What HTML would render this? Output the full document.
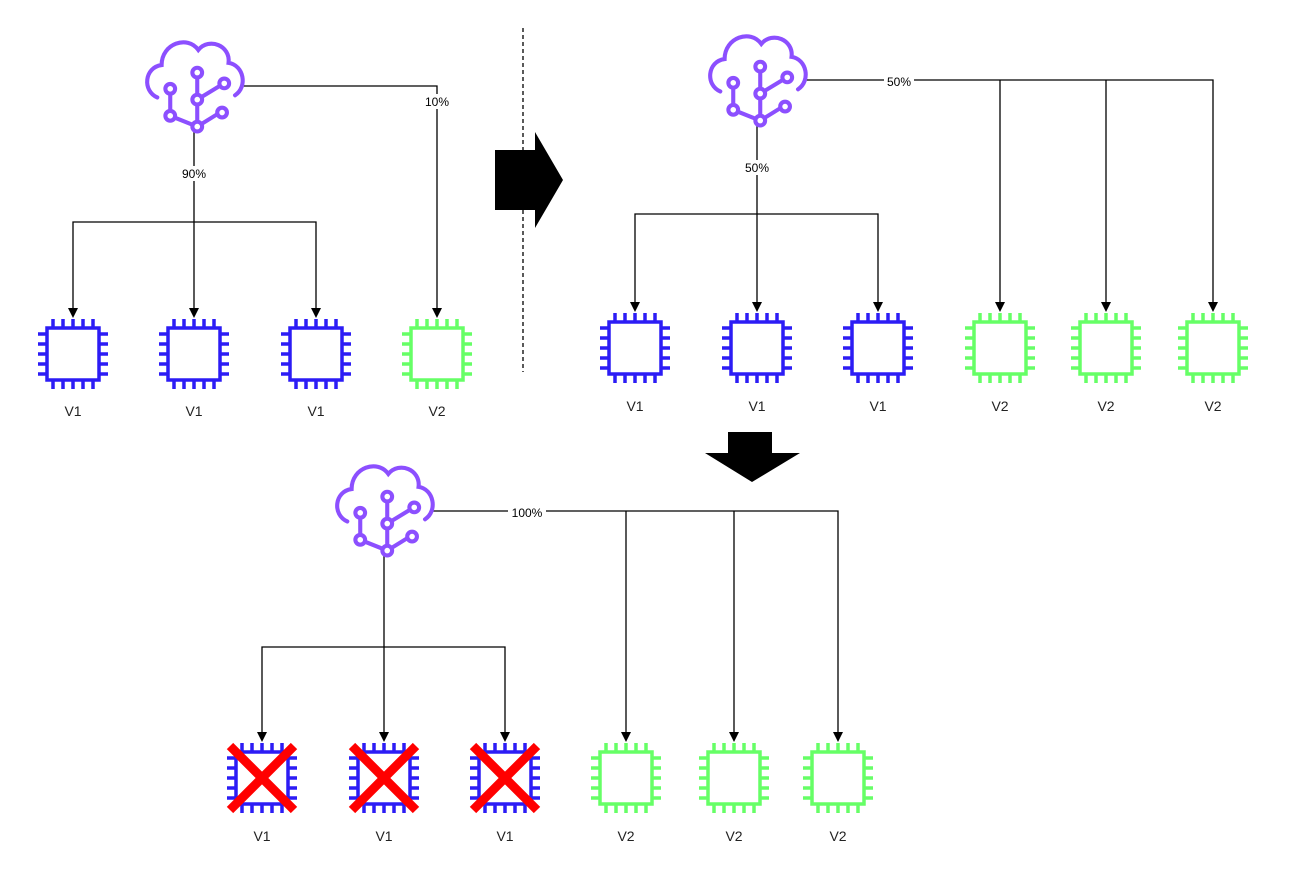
<!DOCTYPE html>
<html><head><style>body{margin:0;background:#fff}svg{display:block}</style></head><body>
<svg width="1290" height="873" viewBox="0 0 1290 873" xmlns="http://www.w3.org/2000/svg" font-family="Liberation Sans, sans-serif">
<defs>
<g id="cloud0" fill="none" stroke="#8c4fff" stroke-width="3.8" stroke-linecap="round">
<path d="M-34 18 C-48 12 -46 -10 -30 -12 C-30 -32 -6 -40 4 -26 C14 -38 34 -30 32 -14 C46 -12 50 8 38 16"/>
<path d="M3 -5 V20 M3 20 L26 6 M3 20 V45 M-22 10 V35 L3 45 L24 32"/>
<g fill="#fff"><circle cx="3" cy="-5" r="4.5"/><circle cx="28" cy="5" r="4.5"/><circle cx="-22" cy="10" r="4.5"/><circle cx="3" cy="20" r="4.5"/><circle cx="-22" cy="35" r="4.5"/><circle cx="3" cy="45" r="4.5"/><circle cx="26" cy="32" r="4.5"/></g>
</g>
<g id="cloud"><use href="#cloud0" transform="scale(1.08)"/></g>
<g id="chip" fill="none" stroke-width="3.5">
<rect x="-26" y="-26" width="52" height="52"/>
<path d="M-20 -27V-35M-10 -27V-35M0 -27V-35M10 -27V-35M20 -27V-35M-20 27V35M-10 27V35M0 27V35M10 27V35M20 27V35M-27 -20H-35M-27 -10H-35M-27 0H-35M-27 10H-35M-27 20H-35M27 -20H35M27 -10H35M27 0H35M27 10H35M27 20H35"/>
</g>
<g id="ar"><path d="M-5 -10 L5 -10 L0 0 Z" fill="#000"/></g>
<g id="x" stroke="#ff0000" stroke-width="9"><path d="M-32 -32 L32 32 M32 -32 L-32 32"/></g>
</defs>
<g stroke="#000" stroke-width="1.3" fill="none">
<path d="M240 86H437V316"/>
<path d="M194 126V316M73 316V222H316V316"/>
<path d="M805 80H1213V310M1000 80V310M1106 80V310"/>
<path d="M757 122V310M635 310V214H878V310"/>
<path d="M430 511H838V740M626 511V740M734 511V740"/>
<path d="M384 552V740M262 740V647H505V740"/>
<path d="M523 28V372" stroke-dasharray="4 3"/>
</g>
<g>
<use href="#ar" x="73" y="318"/><use href="#ar" x="194" y="318"/><use href="#ar" x="316" y="318"/><use href="#ar" x="437" y="318"/>
<use href="#ar" x="635" y="312"/><use href="#ar" x="757" y="312"/><use href="#ar" x="878" y="312"/><use href="#ar" x="1000" y="312"/><use href="#ar" x="1106" y="312"/><use href="#ar" x="1213" y="312"/>
<use href="#ar" x="262" y="742"/><use href="#ar" x="384" y="742"/><use href="#ar" x="505" y="742"/><use href="#ar" x="626" y="742"/><use href="#ar" x="734" y="742"/><use href="#ar" x="838" y="742"/>
</g>
<use href="#cloud" x="194" y="78"/><use href="#cloud" x="757" y="72"/><use href="#cloud" x="384" y="502"/>
<g stroke="#2c1cf5"><use href="#chip" x="73" y="354"/><use href="#chip" x="194" y="354"/><use href="#chip" x="316" y="354"/>
<use href="#chip" x="635" y="348"/><use href="#chip" x="757" y="348"/><use href="#chip" x="878" y="348"/>
<use href="#chip" x="262" y="778"/><use href="#chip" x="384" y="778"/><use href="#chip" x="505" y="778"/></g>
<g stroke="#66ff66"><use href="#chip" x="437" y="354"/>
<use href="#chip" x="1000" y="348"/><use href="#chip" x="1106" y="348"/><use href="#chip" x="1213" y="348"/>
<use href="#chip" x="626" y="778"/><use href="#chip" x="734" y="778"/><use href="#chip" x="838" y="778"/></g>
<use href="#x" x="262" y="778"/><use href="#x" x="384" y="778"/><use href="#x" x="505" y="778"/>
<g font-size="12" text-anchor="middle">
<rect x="422" y="94" width="30" height="15" fill="#fff"/><text x="437" y="106">10%</text>
<rect x="177" y="166" width="34" height="15" fill="#fff"/><text x="194" y="178">90%</text>
<rect x="884" y="74" width="30" height="15" fill="#fff"/><text x="899" y="86">50%</text>
<rect x="740" y="160" width="34" height="15" fill="#fff"/><text x="757" y="172">50%</text>
<rect x="508" y="505" width="38" height="15" fill="#fff"/><text x="527" y="517">100%</text>
</g>
<g font-size="14" text-anchor="middle" fill="#222">
<text x="73" y="416">V1</text><text x="194" y="416">V1</text><text x="316" y="416">V1</text><text x="437" y="416">V2</text>
<text x="635" y="411">V1</text><text x="757" y="411">V1</text><text x="878" y="411">V1</text><text x="1000" y="411">V2</text><text x="1106" y="411">V2</text><text x="1213" y="411">V2</text>
<text x="262" y="841">V1</text><text x="384" y="841">V1</text><text x="505" y="841">V1</text><text x="626" y="841">V2</text><text x="734" y="841">V2</text><text x="838" y="841">V2</text>
</g>
<path d="M495 150H535V132L563 180L535 228V210H495Z" fill="#000"/>
<path d="M728 432H772V453H800L752 482L705 453H728Z" fill="#000"/>
</svg>
</body></html>
